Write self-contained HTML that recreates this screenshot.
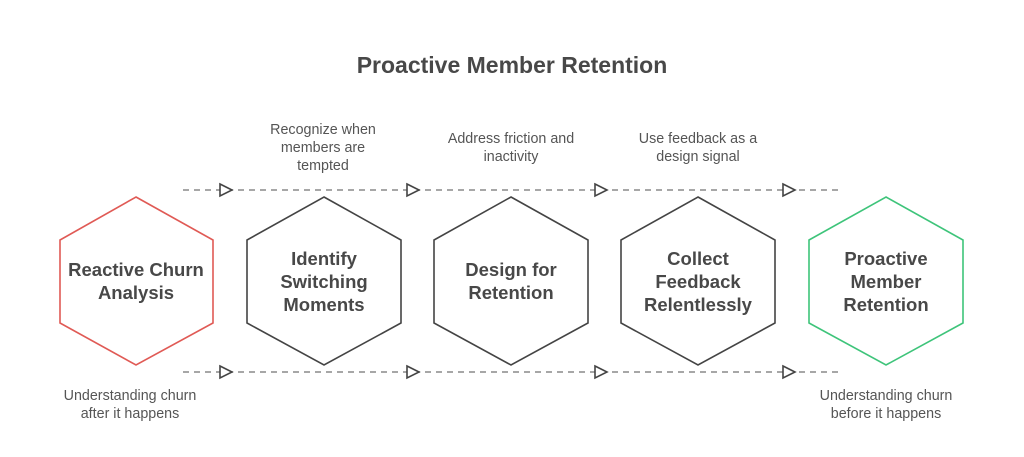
<!DOCTYPE html>
<html><head><meta charset="utf-8"><style>
body{margin:0;background:#fff;width:1024px;height:452px;overflow:hidden;font-family:"Liberation Sans",Arial,sans-serif}
</style></head><body>
<svg width="1024" height="452" xmlns="http://www.w3.org/2000/svg" font-family="Liberation Sans, Arial, sans-serif">
<text x="512" y="73" text-anchor="middle" font-size="23" font-weight="bold" fill="#484848">Proactive Member Retention</text>
<g stroke="#8a8a8a" stroke-width="1.5" stroke-dasharray="6,5">
<line x1="183" y1="190" x2="843" y2="190"/>
<line x1="183" y1="372" x2="843" y2="372"/>
</g>
<g fill="#fff" stroke="#444" stroke-width="1.6">
<polygon points="220,184 232,190 220,196"/><polygon points="407,184 419,190 407,196"/><polygon points="595,184 607,190 595,196"/><polygon points="783,184 795,190 783,196"/>
<polygon points="220,366 232,372 220,378"/><polygon points="407,366 419,372 407,378"/><polygon points="595,366 607,372 595,378"/><polygon points="783,366 795,372 783,378"/>
</g>
<g fill="#fff" stroke-width="1.6">
<polygon stroke="#e05a55" points="136,197 213,240 213,323 136,365 60,323 60,240"/>
<polygon stroke="#444" points="324,197 401,240 401,323 324,365 247,323 247,240"/>
<polygon stroke="#444" points="511,197 588,240 588,323 511,365 434,323 434,240"/>
<polygon stroke="#444" points="698,197 775,240 775,323 698,365 621,323 621,240"/>
<polygon stroke="#3ec47a" points="886,197 963,240 963,323 886,365 809,323 809,240"/>
</g>
<g font-size="18.5" font-weight="bold" fill="#484848" text-anchor="middle">
<text x="136" y="276">Reactive Churn</text><text x="136" y="299">Analysis</text>
<text x="324" y="265">Identify</text><text x="324" y="288">Switching</text><text x="324" y="311">Moments</text>
<text x="511" y="276">Design for</text><text x="511" y="299">Retention</text>
<text x="698" y="265">Collect</text><text x="698" y="288">Feedback</text><text x="698" y="311">Relentlessly</text>
<text x="886" y="265">Proactive</text><text x="886" y="288">Member</text><text x="886" y="311">Retention</text>
</g>
<g font-size="14.3" fill="#555" text-anchor="middle">
<text x="323" y="134">Recognize when</text><text x="323" y="152">members are</text><text x="323" y="170">tempted</text>
<text x="511" y="143">Address friction and</text><text x="511" y="161">inactivity</text>
<text x="698" y="143">Use feedback as a</text><text x="698" y="161">design signal</text>
<text x="130" y="400">Understanding churn</text><text x="130" y="418">after it happens</text>
<text x="886" y="400">Understanding churn</text><text x="886" y="418">before it happens</text>
</g>
</svg>
</body></html>
